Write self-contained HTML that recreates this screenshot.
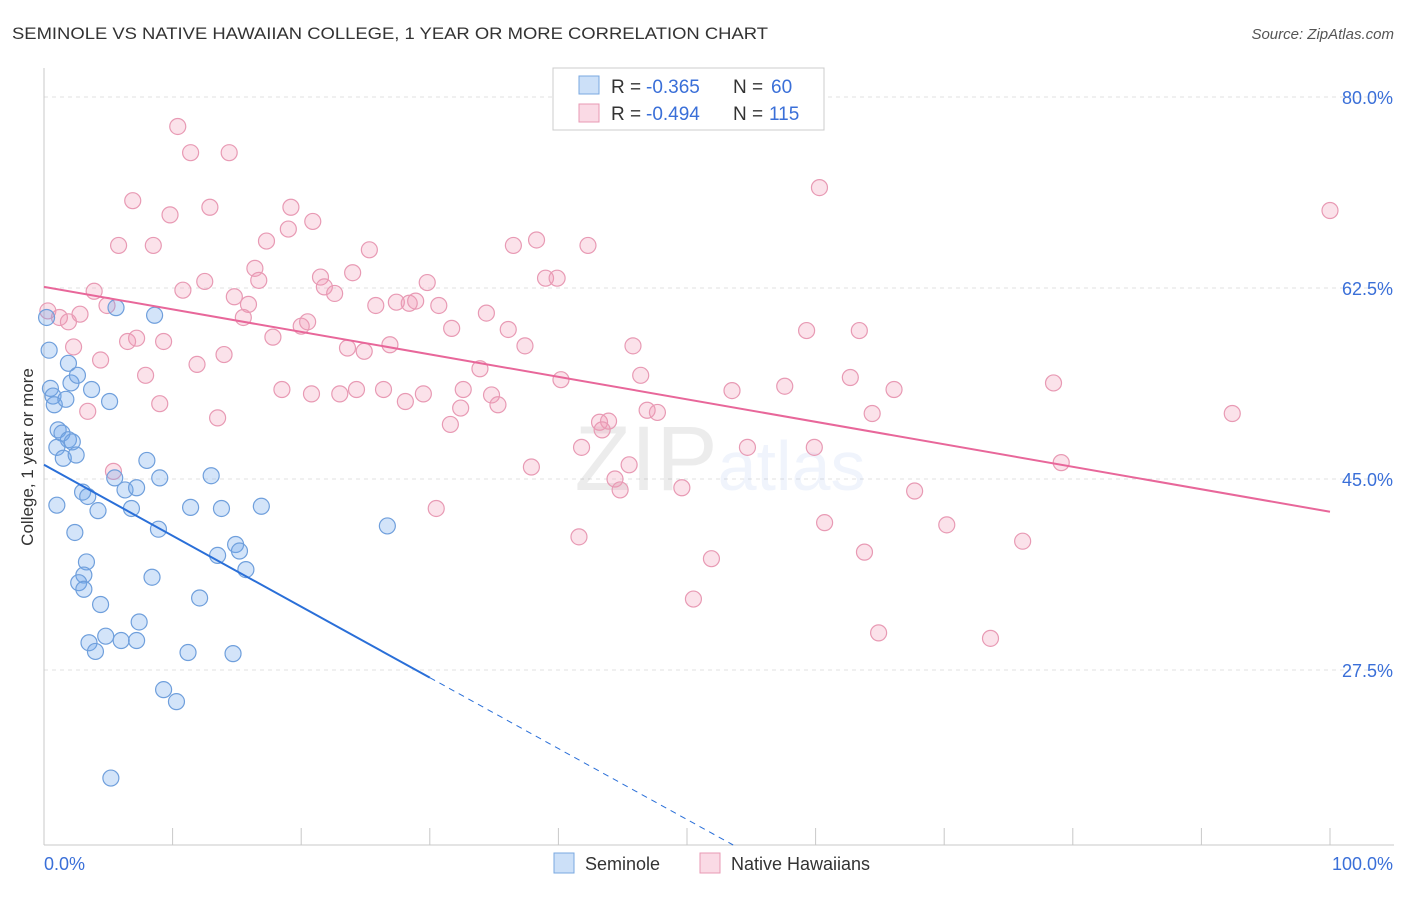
<!DOCTYPE html>
<html><head><meta charset="utf-8"><style>
body{margin:0;background:#fff;font-family:"Liberation Sans",sans-serif;}
svg text{font-family:"Liberation Sans",sans-serif;}
</style></head><body>
<svg id="chart" width="1406" height="892" viewBox="0 0 1406 892" xmlns="http://www.w3.org/2000/svg">
<text x="12" y="39" font-size="17" fill="#333" textLength="756" lengthAdjust="spacingAndGlyphs">SEMINOLE VS NATIVE HAWAIIAN COLLEGE, 1 YEAR OR MORE CORRELATION CHART</text>
<text x="1394" y="39" font-size="15" fill="#555" font-style="italic" text-anchor="end">Source: ZipAtlas.com</text>
<g id="grid"></g>
<text x="720" y="490" font-size="92" text-anchor="middle" fill="#000" opacity="0.07" font-family="Liberation Serif">ZIP<tspan fill="#3a6fd8" opacity="1" font-family="Liberation Sans" font-size="70">atlas</tspan></text>
<g id="marks"></g>
<text transform="translate(33,457) rotate(-90)" font-size="17" fill="#333" text-anchor="middle">College, 1 year or more</text>
<text x="44" y="870" font-size="18" fill="#3a6fd8">0.0%</text>
<text x="1393" y="870" font-size="18" fill="#3a6fd8" text-anchor="end">100.0%</text>
<g>
<rect x="553" y="68" width="271" height="62" fill="#fff" stroke="#ccc"/>
<rect x="579" y="76" width="20" height="18" fill="rgba(110,165,235,0.35)" stroke="#7aa8e0"/>
<rect x="579" y="104" width="20" height="18" fill="rgba(240,150,180,0.35)" stroke="#e89ab4"/>
<text y="93" font-size="19" fill="#333"><tspan x="611">R =</tspan><tspan x="646" fill="#3a6fd8">-0.365</tspan><tspan x="733">N =</tspan><tspan x="771" fill="#3a6fd8">60</tspan></text>
<text y="120" font-size="19" fill="#333"><tspan x="611">R =</tspan><tspan x="646" fill="#3a6fd8">-0.494</tspan><tspan x="733">N =</tspan><tspan x="769" fill="#3a6fd8">115</tspan></text>
</g>
<g>
<rect x="554" y="853" width="20" height="20" fill="rgba(110,165,235,0.35)" stroke="#7aa8e0"/>
<text x="585" y="870" font-size="18" fill="#333">Seminole</text>
<rect x="700" y="853" width="20" height="20" fill="rgba(240,150,180,0.35)" stroke="#e89ab4"/>
<text x="731" y="870" font-size="18" fill="#333">Native Hawaiians</text>
</g>
</svg>
<script>
const yTicks=[80,62.5,45,27.5];
const yTickLabels=["80.0%","62.5%","45.0%","27.5%"];
const seminoleX=[0.2,0.4,0.5,0.7,0.8,1.7,1.9,2.1,2.6,3.7,5.1,5.6,8.6,1.1,1.4,1.9,2.2,1.0,1.5,2.5,1.0,2.4,3.0,3.4,4.2,5.5,6.3,7.2,6.8,8.0,9.0,8.9,11.4,13.0,13.8,16.9,26.7,3.3,3.1,2.7,3.1,4.4,8.4,7.4,12.1,13.5,14.9,15.2,15.7,3.5,4.0,4.8,6.0,7.2,11.2,14.7,9.3,10.3,5.2];
const seminoleY=[59.8,56.8,53.3,52.6,51.8,52.3,55.6,53.8,54.5,53.2,52.1,60.7,60.0,49.5,49.2,48.6,48.4,47.9,46.9,47.2,42.6,40.1,43.8,43.4,42.1,45.1,44.0,44.2,42.3,46.7,45.1,40.4,42.4,45.3,42.3,42.5,40.7,37.4,36.2,35.5,34.9,33.5,36.0,31.9,34.1,38.0,39.0,38.4,36.7,30.0,29.2,30.6,30.2,30.2,29.1,29.0,25.7,24.6,17.6];
const hawaiianX=[10.4,11.4,14.4,6.9,9.8,12.9,5.8,8.5,17.3,19.2,19.0,20.9,25.3,16.4,12.5,10.8,3.9,4.9,1.2,1.9,2.8,6.5,7.2,9.3,4.4,2.3,7.9,11.9,14.0,9.0,3.4,13.5,14.8,15.9,15.5,16.7,21.5,21.8,22.6,24.0,25.8,27.4,28.4,28.9,29.8,30.7,31.7,34.4,36.1,37.4,36.5,38.3,42.3,39.0,39.9,26.9,23.6,24.9,17.8,20.0,20.5,18.5,20.8,23.0,24.3,26.4,28.1,29.5,33.9,32.6,34.8,35.3,32.4,31.6,43.2,43.9,43.4,46.9,47.7,40.2,45.8,46.4,53.5,57.6,59.3,63.4,62.7,66.1,64.4,78.5,92.4,60.3,100,37.9,41.8,44.4,44.8,45.5,49.6,54.7,59.9,79.1,67.7,30.5,41.6,60.7,70.2,76.1,51.9,63.8,50.5,64.9,73.6,5.4,0.3];
const hawaiianY=[77.3,74.9,74.9,70.5,69.2,69.9,66.4,66.4,66.8,69.9,67.9,68.6,66.0,64.3,63.1,62.3,62.2,60.9,59.8,59.4,60.1,57.6,57.9,57.6,55.9,57.1,54.5,55.5,56.4,51.9,51.2,50.6,61.7,61.0,59.8,63.2,63.5,62.6,62.0,63.9,60.9,61.2,61.1,61.3,63.0,60.9,58.8,60.2,58.7,57.2,66.4,66.9,66.4,63.4,63.4,57.3,57.0,56.7,58.0,59.0,59.4,53.2,52.8,52.8,53.2,53.2,52.1,52.8,55.1,53.2,52.7,51.8,51.5,50.0,50.2,50.3,49.5,51.3,51.1,54.1,57.2,54.5,53.1,53.5,58.6,58.6,54.3,53.2,51.0,53.8,51.0,71.7,69.6,46.1,47.9,45.0,44.0,46.3,44.2,47.9,47.9,46.5,43.9,42.3,39.7,41.0,40.8,39.3,37.7,38.3,34.0,30.9,30.4,45.7,60.4];
const seminoleTrend=[46.3,-0.65];
const hawaiianTrend=[62.6,-0.206];
const NS="http://www.w3.org/2000/svg";
const X0=44,X1=1330,YB=845;
const sx=v=>X0+(v/100)*(X1-X0);
const sy=v=>97+(80-v)*(191/17.5);
function mk(t,a,p){const e=document.createElementNS(NS,t);for(const k in a)e.setAttribute(k,a[k]);p.appendChild(e);return e;}
const grid=document.getElementById('grid'),marks=document.getElementById('marks');
yTicks.forEach((t,i)=>{
 const l=mk('line',{x1:X0,x2:1394,y1:sy(t),y2:sy(t),stroke:'#e2e2e2','stroke-dasharray':'4,4'},grid);
 
 
 const tx=mk('text',{x:1393,y:sy(t)+7,'font-size':18,fill:'#3a6fd8','text-anchor':'end'},grid);
 tx.textContent=yTickLabels[i];
 
 
});
const ax=mk('line',{x1:X0,x2:X0,y1:68,y2:YB,stroke:'#c8c8c8'},grid);


const bx=mk('line',{x1:X0,x2:1394,y1:YB,y2:YB,stroke:'#c8c8c8'},grid);


for(let k=0;k<=10;k++){
 const t=mk('line',{x1:sx(k*10),x2:sx(k*10),y1:828,y2:YB,stroke:'#c8c8c8'},grid);
 
 
}
function pts(xs,ys,fill,stroke,name){
 xs.forEach((x,i)=>{
  const c=mk('circle',{cx:sx(x),cy:sy(ys[i]),r:8,fill:fill,stroke:stroke,'stroke-width':1.2},marks);
  
  
 });
}
pts(hawaiianX,hawaiianY,'rgba(240,150,180,0.28)','#e89ab4','native-hawaiian-point');
pts(seminoleX,seminoleY,'rgba(110,165,235,0.3)','#6f9fdc','seminole-point');
const f=(tr,x)=>tr[0]+tr[1]*x;
const bl=mk('line',{x1:sx(0),y1:sy(f(seminoleTrend,0)),x2:sx(30),y2:sy(f(seminoleTrend,30)),stroke:'#2a6fd8','stroke-width':2},marks);


const xe=(80-(YB-97)*17.5/191-seminoleTrend[0])/seminoleTrend[1];
const bd=mk('line',{x1:sx(30),y1:sy(f(seminoleTrend,30)),x2:sx(xe),y2:YB,stroke:'#2a6fd8','stroke-width':1,'stroke-dasharray':'6,5'},marks);


const pl=mk('line',{x1:sx(0),y1:sy(f(hawaiianTrend,0)),x2:sx(100),y2:sy(f(hawaiianTrend,100)),stroke:'#e8679a','stroke-width':2},marks);


</script>
</body></html>
